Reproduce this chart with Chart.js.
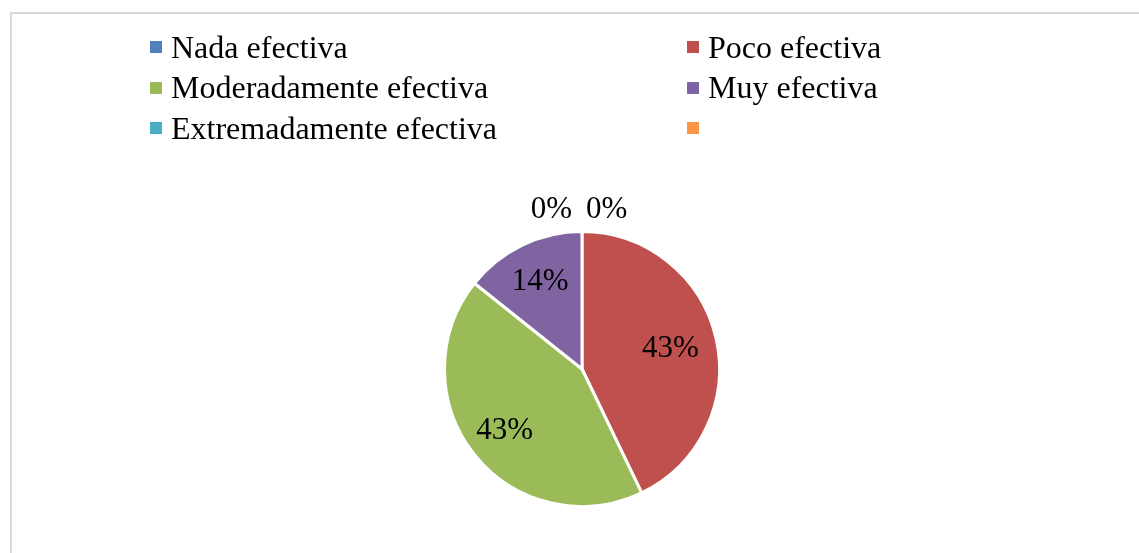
<!DOCTYPE html>
<html>
<head>
<meta charset="utf-8">
<script src="https://cdn.jsdelivr.net/npm/chart.js@4/dist/chart.umd.min.js"></script>
<style>
  html, body { margin: 0; padding: 0; background: #fff; overflow: hidden; }
  #wrap { position: relative; width: 1139px; height: 553px; }
  #frame {
    position: absolute; left: 10px; top: 12px; width: 1200px; height: 600px;
    border-top: 2px solid #d9d9d9; border-left: 2px solid #d9d9d9;
  }
  #pieChart { position: absolute; left: 0; top: 0; }
  #legend {
    position: absolute; left: 150px; top: 27px;
    display: grid; grid-template-columns: 537px auto; grid-auto-rows: 40.5px;
    font-family: "Liberation Serif", "Times New Roman", serif; font-size: 32px; color: #000;
  }
  .item { display: flex; align-items: center; white-space: nowrap; }
  .box { width: 12px; height: 12px; margin-right: 9px; flex: none; }
</style>
</head>
<body>
<div id="wrap">
  <div id="frame"></div>
  <canvas id="pieChart" width="1139" height="553"></canvas>
  <div id="legend"></div>
</div>
<script>
// Categories and responses (percentages are computed from these)
const categories = ["Nada efectiva", "Poco efectiva", "Moderadamente efectiva", "Muy efectiva", "Extremadamente efectiva", ""];
const responses = [0, 3, 3, 1, 0, null];
const sliceColors = ["#4f81bd", "#c0504d", "#9bbb59", "#8064a2", "#4bacc6", "#f79646"];

// Where each label sits inside its slice (fraction of the radius)
const labelRadius = [0, 0.66, 0.72, 0.70, 0, 0];

const FONT = '31px "Liberation Serif", "Times New Roman", serif';

// Percent labels, drawn after the arcs
const percentLabels = {
  id: "percentLabels",
  afterDatasetsDraw(chart) {
    const ctx = chart.ctx;
    const meta = chart.getDatasetMeta(0);
    const data = chart.data.datasets[0].data;
    const total = data.reduce((s, v) => s + (v || 0), 0);
    ctx.save();
    ctx.font = FONT;
    ctx.fillStyle = "#000";
    ctx.textBaseline = "middle";
    meta.data.forEach((arc, i) => {
      const v = data[i];
      if (v === null || v === undefined) return;
      const pct = Math.round(v / total * 100) + "%";
      const { x, y, startAngle, endAngle, outerRadius } = arc.getProps(["x", "y", "startAngle", "endAngle", "outerRadius"], true);
      if (v === 0) {
        // zero slices sit just above the top of the pie
        const ty = y - outerRadius - 22;
        if (startAngle <= -Math.PI / 2 + 0.01) {
          ctx.textAlign = "left";
          ctx.fillText(pct, x + 4, ty);
        } else {
          ctx.textAlign = "right";
          ctx.fillText(pct, x - 10, ty);
        }
        return;
      }
      const mid = (startAngle + endAngle) / 2;
      const r = outerRadius * labelRadius[i];
      ctx.textAlign = "center";
      ctx.fillText(pct, x + Math.cos(mid) * r, y + Math.sin(mid) * r);
    });
    ctx.restore();
  }
};

const chart = new Chart(document.getElementById("pieChart"), {
  type: "pie",
  data: {
    labels: categories,
    datasets: [{
      data: responses,
      backgroundColor: sliceColors,
      borderColor: "#ffffff",
      borderWidth: 3
    }]
  },
  options: {
    responsive: false,
    animation: false,
    layout: { padding: { left: 443, right: 418, top: 230, bottom: 45 } },
    plugins: {
      legend: { display: false },
      tooltip: { enabled: false }
    }
  },
  plugins: [percentLabels]
});

// HTML legend in two columns, built from the chart's own legend items
const legendEl = document.getElementById("legend");
chart.options.plugins.legend.labels.generateLabels(chart).forEach(item => {
  const div = document.createElement("div");
  div.className = "item";
  div.innerHTML = `<span class="box" style="background:${item.fillStyle}"></span><span>${item.text}</span>`;
  legendEl.appendChild(div);
});
</script>
</body>
</html>
